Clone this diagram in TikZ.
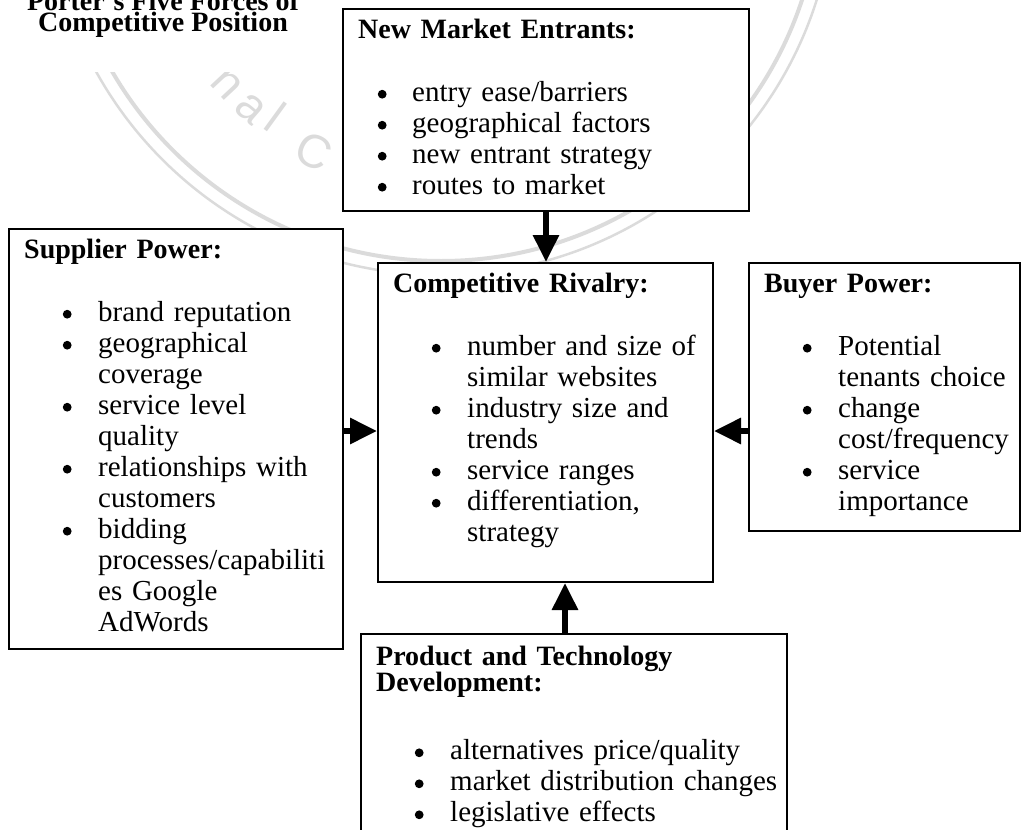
\documentclass[tikz,border=0pt]{standalone}
\usepackage{fontspec}
\setmainfont{Liberation Serif}
\newfontfamily\markfont{Liberation Sans}
\usepackage{xcolor}
\usetikzlibrary{arrows.meta}
\usetikzlibrary{positioning}

\definecolor{sealgray}{gray}{0.86}
\newlength{\bulx}
\newlength{\bulind}
\newcommand{\headfont}{\fontsize{28}{25}\selectfont\bfseries}
\newcommand{\bodyfont}{\fontsize{29}{31}\selectfont}
\newcommand{\head}[2][32pt]{{\headfont\noindent\rule{0pt}{20pt}#2\par}\vspace{#1}}
\newcommand{\dotmark}{\tikz[baseline=0pt]\fill (0pt,7pt) circle [radius=4.4pt];}
\newcommand{\bitem}[1]{\noindent\hangindent=\bulind\hangafter=1\makebox[\bulind][l]{\hspace{\dimexpr\bulx-4.4pt\relax}\dotmark}#1\par}
\newcommand{\bulletsat}[2]{\setlength{\bulx}{#1}\setlength{\bulind}{#2}}

\begin{document}
\begin{tikzpicture}[x=1pt, y=-1pt,
    forcebox/.style={draw, line width=2pt, fill=white, inner sep=0pt, anchor=north west},
    forcetext/.style={anchor=north west, inner sep=0pt, align=left, font=\bodyfont},
    force/.style={line width=6pt, -{Triangle[length=27pt, width=25pt]}},
    sealletter/.style={text=sealgray, font=\markfont\fontsize{47}{47}\selectfont, inner sep=0pt}]

    \useasboundingbox (0,0) rectangle (1021,830);
    \clip (0,0) rectangle (1021,830);

    % watermark seal behind the boxes
    \draw [sealgray, line width=4pt] (441,-119) circle [radius=380];
    \draw [sealgray, line width=2.5pt] (441,-119) circle [radius=394];
    \node (sealn) [sealletter, rotate=-47] at (227,84) {n};
    \node (seala) [sealletter, rotate=-41] at (251,109) {a};
    \node (seall) [sealletter, rotate=-36] at (276,117) {l};
    \node (sealc) [sealletter, rotate=-26] at (314,151) {C};
    \fill [white] (0,0) rectangle (330,72);

    % title
    \node (title) [anchor=north, inner sep=0pt, align=center, font=\fontsize{28}{21.5}\selectfont\bfseries] at (163,-10)
        {\rule{0pt}{20pt}Porter's Five Forces of\\Competitive Position};

    % the five boxes
    \node (nme) [forcebox, minimum width=406pt, minimum height=202pt] at (342,8) {};
    \node (cr)  [forcebox, minimum width=335pt, minimum height=319pt] at (377,262) {};
    \node (sup) [forcebox, minimum width=334pt, minimum height=420pt] at (8,228) {};
    \node (buy) [forcebox, minimum width=271pt, minimum height=268pt] at (748,262) {};
    \node (ptd) [forcebox, minimum width=426pt, minimum height=230pt] at (360,633) {};

    \node (nmetxt) [forcetext, text width=385pt] at ([xshift=16pt, yshift=-10pt]nme.north west) {%
        \bulletsat{24pt}{54pt}%
        \head{New Market Entrants:}
        \bitem{entry ease/barriers}
        \bitem{geographical factors}
        \bitem{new entrant strategy}
        \bitem{routes to market}};

    \node (crtxt) [forcetext, text width=315pt] at ([xshift=16pt, yshift=-10pt]cr.north west) {%
        \bulletsat{43pt}{74pt}%
        \head{Competitive Rivalry:}
        \bitem{number and size of\newline similar websites}
        \bitem{industry size and\newline trends}
        \bitem{service ranges}
        \bitem{differentiation,\newline strategy}};

    \node (suptxt) [forcetext, text width=315pt] at ([xshift=16pt, yshift=-10pt]sup.north west) {%
        \bulletsat{43pt}{74pt}%
        \head{Supplier Power:}
        \bitem{brand reputation}
        \bitem{geographical\newline coverage}
        \bitem{service level\newline quality}
        \bitem{relationships with\newline customers}
        \bitem{bidding\newline processes/capabiliti\newline es Google\newline AdWords}};

    \node (buytxt) [forcetext, text width=255pt] at ([xshift=16pt, yshift=-10pt]buy.north west) {%
        \bulletsat{43pt}{74pt}%
        \head{Buyer Power:}
        \bitem{Potential\newline tenants choice}
        \bitem{change\newline cost/frequency}
        \bitem{service\newline importance}};

    \node (ptdtxt) [forcetext, text width=405pt] at ([xshift=16pt, yshift=-12pt]ptd.north west) {%
        \bulletsat{43pt}{74pt}%
        \head[37pt]{Product and Technology\\Development:}
        \bitem{alternatives price/quality}
        \bitem{market distribution changes}
        \bitem{legislative effects}};

    % forces acting on the rivalry
    \coordinate (row) at (0,431);
    \draw [force] (nme.south) -- (nme.south |- cr.north);
    \draw [force] (sup.east |- row) -- (cr.west |- row);
    \draw [force] (buy.west |- row) -- (cr.east |- row);
    \draw [force] ([xshift=-9pt]ptd.north) -- ([xshift=-9pt]ptd.north |- cr.south);
\end{tikzpicture}
\end{document}
